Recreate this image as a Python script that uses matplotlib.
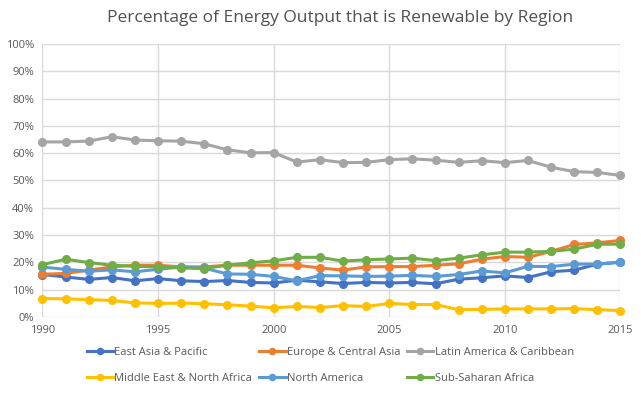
import matplotlib.pyplot as plt
from matplotlib.ticker import PercentFormatter

# данные (в процентах)
years = list(range(1990, 2016))

east_asia = [15.5, 14.6, 13.7, 14.4, 13.2, 14.0, 13.2, 12.9, 13.3, 12.6, 12.4, 13.4, 12.8,
             12.2, 12.6, 12.4, 12.6, 12.1, 13.8, 14.3, 15.0, 14.4, 16.5, 17.1, 19.3, 20.0]
europe = [15.6, 15.9, 17.1, 18.3, 18.9, 18.9, 18.3, 18.3, 18.9, 18.9, 18.9, 18.9, 17.9,
          17.1, 18.3, 18.4, 18.4, 18.9, 19.4, 21.1, 22.1, 21.8, 24.0, 26.5, 27.1, 28.0]
latin = [64.1, 64.1, 64.4, 66.0, 64.8, 64.5, 64.4, 63.4, 61.2, 60.1, 60.2, 56.7, 57.6,
         56.5, 56.6, 57.6, 57.9, 57.4, 56.6, 57.2, 56.5, 57.3, 54.8, 53.2, 52.9, 51.8]
middle_east = [6.7, 6.6, 6.3, 6.0, 5.1, 4.9, 5.0, 4.8, 4.4, 3.9, 3.3, 3.8, 3.4,
               4.1, 3.8, 4.9, 4.5, 4.5, 2.6, 2.7, 2.9, 2.9, 2.9, 3.0, 2.6, 2.3]
north_america = [18.2, 17.4, 16.7, 17.2, 16.5, 17.4, 18.3, 17.8, 15.7, 15.6, 14.8, 13.2, 15.1,
                 15.0, 14.8, 14.9, 15.2, 14.8, 15.5, 16.8, 16.1, 18.5, 18.4, 19.3, 19.3, 20.1]
sub_saharan = [19.1, 21.1, 19.9, 18.9, 18.5, 18.3, 17.9, 17.7, 18.9, 19.8, 20.5, 21.8, 21.8,
               20.4, 20.9, 21.2, 21.5, 20.6, 21.5, 22.7, 23.7, 23.7, 24.0, 24.8, 26.6, 26.6]

series = [
    ('East Asia & Pacific', east_asia, '#4472C4'),
    ('Europe & Central Asia', europe, '#ED7D31'),
    ('Latin America & Caribbean', latin, '#A5A5A5'),
    ('Middle East & North Africa', middle_east, '#FFC000'),
    ('North America', north_america, '#5B9BD5'),
    ('Sub-Saharan Africa', sub_saharan, '#70AD47'),
]

plt.rcParams['font.family'] = ['Open Sans', 'DejaVu Sans']
text_color = '#595959'

fig = plt.figure(figsize=(6.41, 3.96), dpi=100)
ax = fig.add_axes([0.0663, 0.2, 0.9017, 0.689])

lines = {}
for name, values, color in series:
    ln, = ax.plot(years, values, color=color, lw=2.2, marker='o', ms=5.5,
                  label=name, clip_on=False, zorder=3)
    lines[name] = ln

ax.set_xlim(1990, 2015)
ax.set_ylim(0, 100)
ax.set_xticks(range(1990, 2016, 5))
ax.set_yticks(range(0, 101, 10))
ax.yaxis.set_major_formatter(PercentFormatter(decimals=0))
ax.grid(True, color='#D9D9D9', lw=1)
ax.set_axisbelow(True)
for s in ax.spines.values():
    s.set_visible(False)
ax.tick_params(length=0, labelsize=8, colors=text_color, pad=6)

fig.suptitle('Percentage of Energy Output that is Renewable by Region',
             x=0.53, y=0.975, fontsize=12.5, color='#505050')

# легенда заполняется по столбцам, поэтому переставляем порядок
order = ['East Asia & Pacific', 'Middle East & North Africa',
         'Europe & Central Asia', 'North America',
         'Latin America & Caribbean', 'Sub-Saharan Africa']
fig.legend([lines[n] for n in order], order, ncol=3, loc='center',
           bbox_to_anchor=(0.515, 0.077), frameon=False, fontsize=8,
           labelcolor=text_color, handlelength=2.4, handletextpad=0.1,
           columnspacing=0.6, labelspacing=1.3, markerscale=0.8)

fig.savefig('out.png', dpi=100)
